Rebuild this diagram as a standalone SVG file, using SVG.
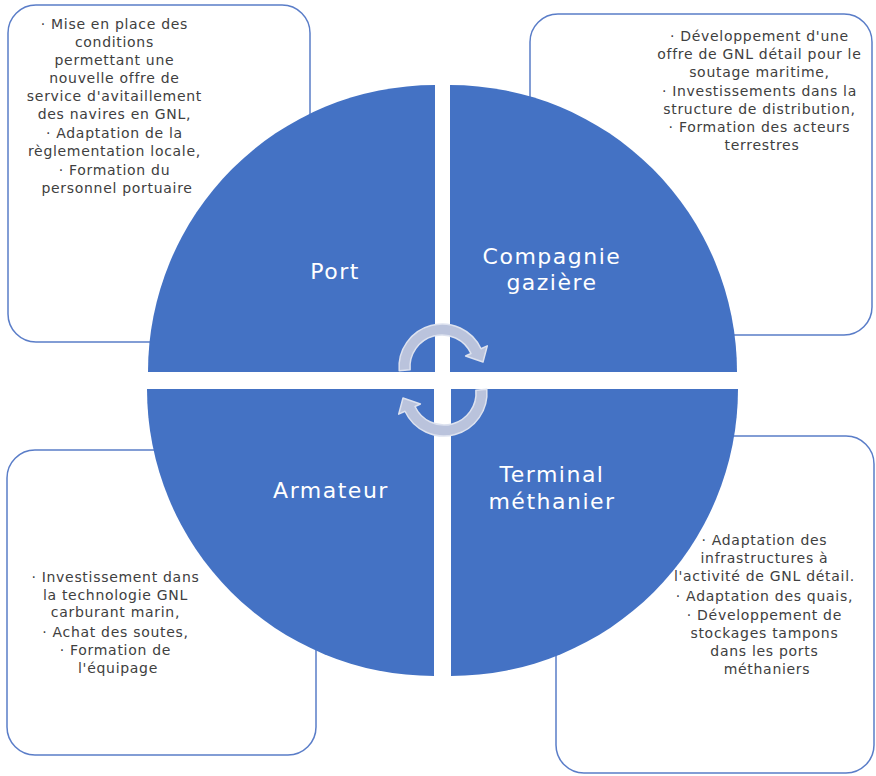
<svg xmlns="http://www.w3.org/2000/svg" width="876" height="776" viewBox="0 0 876 776">
<style>
.box{fill:#ffffff;stroke:#5A7DC8;stroke-width:1.5}
.quad{fill:#4472C4}
.lbl{font-family:"DejaVu Sans",sans-serif;font-size:22px;fill:#ffffff;text-anchor:middle;letter-spacing:1.5px}
.txt{font-family:"DejaVu Sans",sans-serif;font-size:14px;fill:#404040;text-anchor:middle;letter-spacing:0.7px}
.arr{fill:#BAC3DC;stroke:#DDE2EF;stroke-width:1.5;stroke-linejoin:round}
</style>
<rect width="876" height="776" fill="#ffffff"/>
<g id="port">
<rect class="box" x="8" y="5" width="302" height="337" rx="28"/>
<path class="quad" d="M435,372 L148,372 A287,287 0 0 1 435,85 Z"/>
<text class="lbl" x="335" y="279">Port</text>
<text class="txt" x="117">
<tspan x="117" y="29">· Mise en place des</tspan>
<tspan x="117" y="47">conditions</tspan>
<tspan x="117" y="65">permettant une</tspan>
<tspan x="117" y="83">nouvelle offre de</tspan>
<tspan x="117" y="101">service d'avitaillement</tspan>
<tspan x="117" y="119">des navires en GNL,</tspan>
<tspan x="117" y="138">· Adaptation de la</tspan>
<tspan x="117" y="156">règlementation locale,</tspan>
<tspan x="117" y="175">· Formation du</tspan>
<tspan x="117" y="193">personnel portuaire</tspan>
</text>
</g>
<g id="compagnie">
<rect class="box" x="530" y="14" width="342" height="321" rx="28"/>
<path class="quad" d="M450,372 L450,85 A287,287 0 0 1 737,372 Z"/>
<text class="lbl" x="552" y="264">Compagnie</text>
<text class="lbl" x="552" y="290">gazière</text>
<text class="txt">
<tspan x="762" y="41">· Développement d'une</tspan>
<tspan x="762" y="59">offre de GNL détail pour le</tspan>
<tspan x="762" y="77">soutage maritime,</tspan>
<tspan x="762" y="96">· Investissements dans la</tspan>
<tspan x="762" y="114">structure de distribution,</tspan>
<tspan x="762" y="132">· Formation des acteurs</tspan>
<tspan x="762" y="150">terrestres</tspan>
</text>
</g>
<g id="armateur">
<rect class="box" x="7" y="450" width="309" height="305" rx="28"/>
<path class="quad" d="M434,389 L434,676 A287,287 0 0 1 147,389 Z"/>
<text class="lbl" x="331" y="498">Armateur</text>
<text class="txt">
<tspan x="118" y="582">· Investissement dans</tspan>
<tspan x="118" y="600">la technologie GNL</tspan>
<tspan x="118" y="617">carburant marin,</tspan>
<tspan x="118" y="637">· Achat des soutes,</tspan>
<tspan x="118" y="655">· Formation de</tspan>
<tspan x="118" y="673">l'équipage</tspan>
</text>
</g>
<g id="terminal">
<rect class="box" x="556" y="436" width="318" height="337" rx="28"/>
<path class="quad" d="M451,389 L738,389 A287,287 0 0 1 451,676 Z"/>
<text class="lbl" x="552" y="482">Terminal</text>
<text class="lbl" x="552" y="509">méthanier</text>
<text class="txt">
<tspan x="767" y="545">· Adaptation des</tspan>
<tspan x="767" y="563">infrastructures à</tspan>
<tspan x="767" y="581">l'activité de GNL détail.</tspan>
<tspan x="767" y="601">· Adaptation des quais,</tspan>
<tspan x="767" y="620">· Développement de</tspan>
<tspan x="767" y="638">stockages tampons</tspan>
<tspan x="767" y="656">dans les ports</tspan>
<tspan x="767" y="674">méthaniers</tspan>
</text>
</g>
<g id="connectors">
<path id="arrow-top" class="arr" d="M399.2,370.7 A43,43 0 0 1 481,348.8 L487.3,345.9 L483,362 L465.6,356 L471,353.5 A32,32 0 0 0 410.1,369.8 Z"/>
<path id="arrow-bottom" class="arr" transform="rotate(180 443 380)" d="M399.2,370.7 A43,43 0 0 1 481,348.8 L487.3,345.9 L483,362 L465.6,356 L471,353.5 A32,32 0 0 0 410.1,369.8 Z"/>
</g>
</svg>
